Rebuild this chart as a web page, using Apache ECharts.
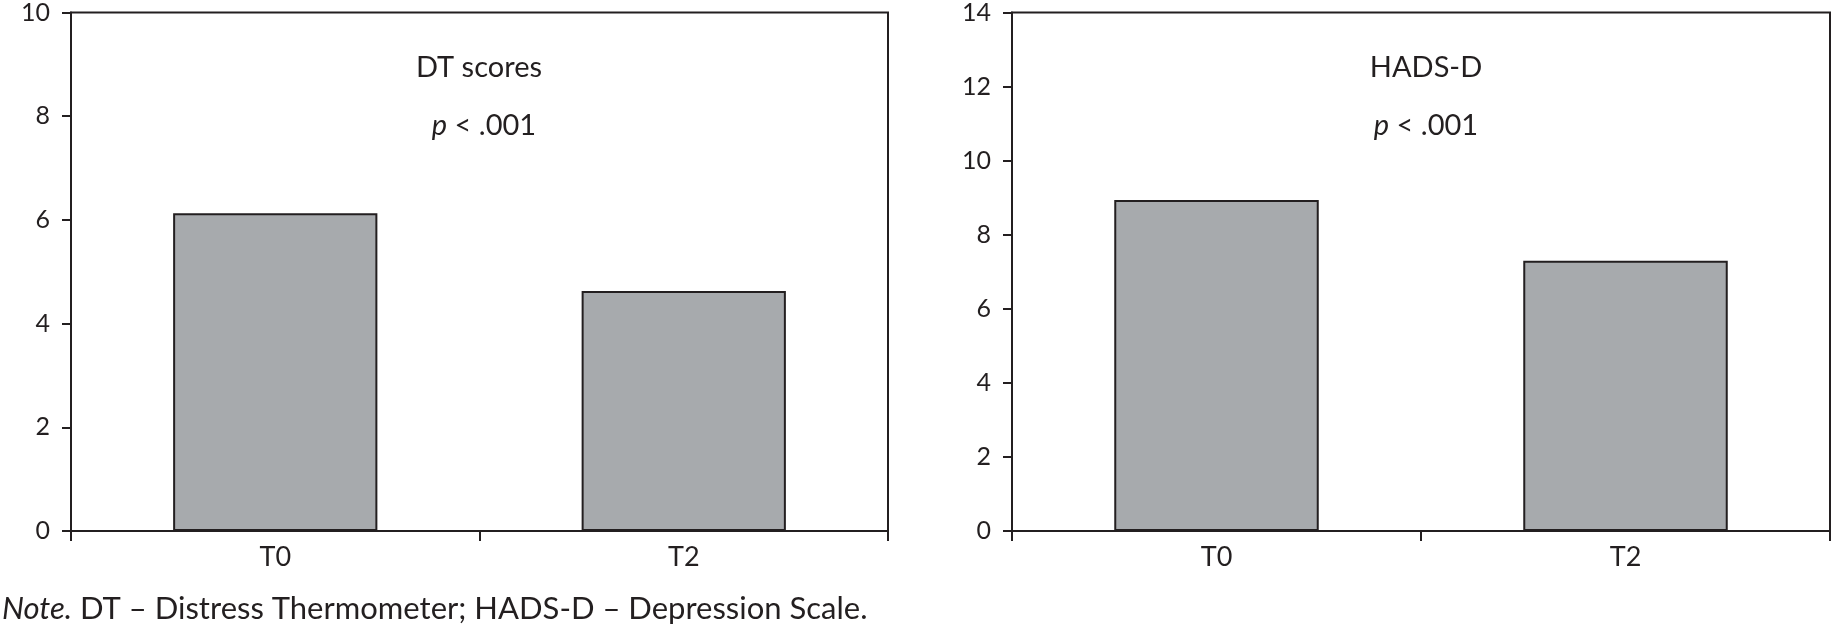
<!DOCTYPE html>
<html>
<head>
<meta charset="utf-8">
<script src="https://cdn.jsdelivr.net/npm/echarts@6/dist/echarts.min.js"></script>
<style>
html,body{margin:0;padding:0;background:#fff;}
#c{width:1831px;height:632px;}
</style>
</head>
<body>
<div id="c"></div>
<script>
const categories = ['T0', 'T2'];
const dtScores = [6.13, 4.63];
const hadsD = [8.94, 7.30];
const dtTicks = [0, 10, 2];    // min, max, interval
const hadsTicks = [0, 14, 2];
const titles = ['DT scores', 'HADS-D'];
const pText = 'p < .001';
const noteText = ['Note.', ' DT – Distress Thermometer; HADS-D – Depression Scale.'];

const FONT = 'Lato';
const INK = '#231f20';
const chart = echarts.init(document.getElementById('c'));

function xAxis(gi) {
  return {
    type: 'category', gridIndex: gi, data: categories,
    axisLine: {lineStyle: {color: INK, width: 2}},
    axisTick: {show: true, length: 10, lineStyle: {color: INK, width: 2}, alignWithLabel: false},
    axisLabel: {color: INK, fontFamily: FONT, fontSize: 27, margin: 13}
  };
}
function yAxis(gi, t) {
  return {
    type: 'value', gridIndex: gi, min: t[0], max: t[1], interval: t[2],
    axisLine: {show: true, lineStyle: {color: INK, width: 2}},
    axisTick: {show: true, length: 9, lineStyle: {color: INK, width: 2}},
    splitLine: {show: false},
    axisLabel: {color: INK, fontFamily: FONT, fontSize: 25, margin: 21}
  };
}
function pTitle(x) {
  return {
    text: '{i|p} < .001', left: x, top: 106, textAlign: 'center',
    textStyle: {
      fontFamily: FONT, fontSize: 29, fontWeight: 'normal', color: INK,
      rich: {i: {fontFamily: FONT, fontSize: 29, fontStyle: 'italic', color: INK}}
    }
  };
}
const barStyle = {color: '#a7aaad', borderColor: INK, borderWidth: 2};

chart.setOption({
  animation: false,
  backgroundColor: '#fff',
  grid: [
    {left: 71, top: 11, width: 817, height: 520, show: true, borderColor: INK, borderWidth: 2, backgroundColor: 'transparent'},
    {left: 1012, top: 11, width: 818, height: 520, show: true, borderColor: INK, borderWidth: 2, backgroundColor: 'transparent'}
  ],
  title: [
    {text: titles[0], left: 474, top: 48, textAlign: 'center', textStyle: {fontFamily: FONT, fontSize: 29, fontWeight: 'normal', color: INK}},
    {text: titles[1], left: 1421, top: 48, textAlign: 'center', textStyle: {fontFamily: FONT, fontSize: 29, fontWeight: 'normal', color: INK}},
    pTitle(479), pTitle(1421)
  ],
  xAxis: [xAxis(0), xAxis(1)],
  yAxis: [yAxis(0, dtTicks), yAxis(1, hadsTicks)],
  series: [
    {type: 'bar', xAxisIndex: 0, yAxisIndex: 0, data: dtScores, barWidth: '50%', itemStyle: barStyle},
    {type: 'bar', xAxisIndex: 1, yAxisIndex: 1, data: hadsD, barWidth: '50%', itemStyle: barStyle}
  ],
  graphic: [{
    type: 'text', left: 2, top: 593,
    style: {
      text: '{i|' + noteText[0] + '}' + noteText[1],
      fontFamily: FONT, fontSize: 31, fill: INK,
      rich: {i: {fontFamily: FONT, fontSize: 31, fontStyle: 'italic', fill: INK, color: INK}}
    }
  }]
});
</script>
</body>
</html>
